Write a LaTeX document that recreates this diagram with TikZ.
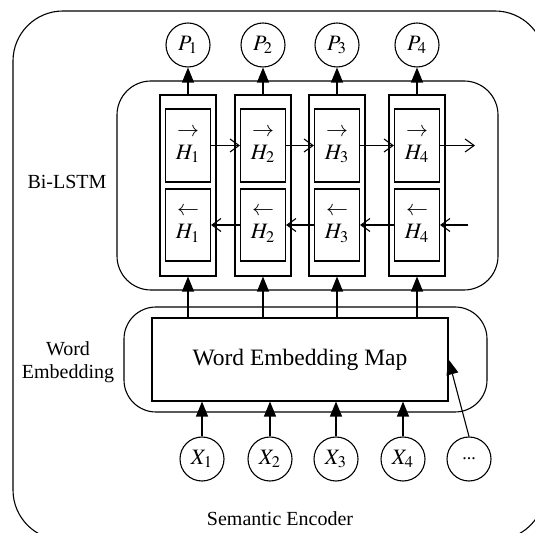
\documentclass[tikz,border=0pt]{standalone}
\usepackage{mathptmx}
\usepackage[no-math]{fontspec}
\setmainfont{Liberation Serif}
\usetikzlibrary{arrows.meta}

\tikzset{
  state/.style={draw,circle,minimum size=22pt,inner sep=0pt,font=\fontsize{11}{12}\selectfont},
  cell/.style={draw,rectangle,minimum width=22.5pt,minimum height=36.5pt,inner sep=0pt,align=center,font=\fontsize{11}{11.5}\selectfont},
  column/.style={draw,rectangle,minimum width=28pt,minimum height=90.5pt},
  fwd/.style={-{Straight Barb[length=4.5pt,width=6.5pt]}},
  up/.style={-{Triangle[length=7.5pt,width=6pt]}}
}

\begin{document}
\begin{tikzpicture}[x=0.5pt,y=-0.5pt,line width=0.55pt,font=\fontsize{10}{11.5}\selectfont]
      \useasboundingbox (0,0) rectangle (535,533);
      \clip (0,0) rectangle (535,533);
      \def \Cols{
        1/188,
        2/263,
        3/337,
        4/417}
      \def \Inputs{
        1/202,
        2/270,
        3/336,
        4/403}
      % frames
      \draw[rounded corners=25pt] (13,11) rectangle (545,540);
      \draw[rounded corners=17pt] (117,81) rectangle (498,290);
      \draw[rounded corners=16pt] (124,307) rectangle (487,412);
      \node[draw,minimum width=148pt,minimum height=41.5pt] (map) at (300,359.5)
        {\fontsize{11.75}{14}\selectfont Word Embedding Map};
      % labels
      \node (bilstm) at (67,182) {Bi-LSTM};
      \node[align=center] (wordemb) at (68,362) {Word\\Embedding};
      \node (encoder) at (280,519) {Semantic Encoder};
      % Bi-LSTM columns
      \foreach \id / \x in \Cols{
        \node[column] (c\id) at (\x,185.5) {};
        \node[cell] (f\id) at (\x,145.5) {$\rightarrow$\\$H_{\id}$};
        \node[cell,minimum height=36pt] (b\id) at (\x,225) {$\leftarrow$\\$H_{\id}$};
        \node[state] (p\id) at (\x,45) {$P_{\id}$};
        \path[draw,up] (c\id.north) -- (p\id.south);
        \path[draw,up] (map.north -| c\id) -- (c\id.south);
      }
      \foreach \a / \b in {1/2,2/3,3/4}{
        \path[draw,fwd] (f\a.east) -- (f\b.west);
        \path[draw,fwd] (b\b.west) -- (b\a.east);
      }
      \coordinate (fout) at (475,145.5);
      \coordinate (bin) at (468,225);
      \path[draw,fwd] (f4.east) -- (fout);
      \path[draw,fwd] (bin) -- (b4.east);
      % inputs
      \foreach \id / \x in \Inputs{
        \node[state] (x\id) at (\x,459) {$X_{\id}$};
        \path[draw,up] (x\id.north) -- (map.south -| x\id);
      }
      \node[state,font=\fontsize{9}{10}\selectfont] (dots) at (469,459) {...};
      \path[draw,up] (dots.north) -- (map.east);
    \end{tikzpicture}
\end{document}
